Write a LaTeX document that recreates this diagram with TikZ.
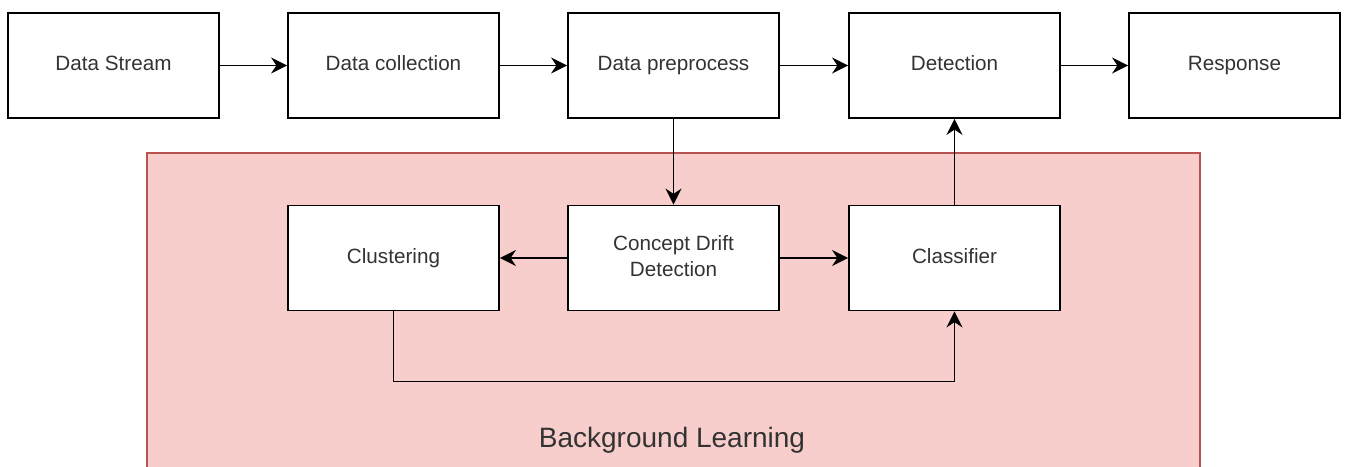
\documentclass[tikz,border=0pt]{standalone}
\usepackage{fontspec}
\setmainfont{Liberation Sans}
\usetikzlibrary{arrows.meta}

\definecolor{bgfill}{HTML}{F8CECC}
\definecolor{bgline}{HTML}{B85450}
\definecolor{txt}{HTML}{333333}

\begin{document}
\begin{tikzpicture}[x=0.75pt, y=-0.75pt,
        main/.style = {draw, fill=white, line width=1.4pt, inner sep=0pt,
                minimum width=158.25pt, minimum height=78.75pt, align=center,
                text=txt, font=\fontsize{15.5}{19.5}\selectfont,
                execute at begin node=\vphantom{Dp}},
        link/.style = {->, line width=1.2pt},
        >={Stealth[length=12pt, width=12pt, inset=4pt]}]
                \useasboundingbox (0,0) rectangle (1345,467);

                % background learning area
                \fill[bgfill] (147,153) rectangle (1200,467);
                \draw[bgline, line width=0.8pt] (147,467) -- (147,153) -- (1200,153) -- (1200,467);
                \node[text=txt, font=\fontsize{21}{25}\selectfont] at (672,440) (bl) {Background Learning};

                % top row
                \node[main] at (113.5, 65.5) (ds) {Data Stream};
                \node[main] at (393.5, 65.5) (dc) {Data collection};
                \node[main] at (673.5, 65.5) (dp) {Data preprocess};
                \node[main] at (954.5, 65.5) (det) {Detection};
                \node[main] at (1234.5, 65.5) (res) {Response};

                % second row
                \node[main] at (393.5, 258) (clu) {Clustering};
                \node[main] at (673.5, 258) (cdd) {Concept Drift\\Detection};
                \node[main] at (954.5, 258) (cls) {Classifier};

                \draw [link] (ds) -- (dc);
                \draw [link] (dc) -- (dp);
                \draw [link] (dp) -- (det);
                \draw [link] (det) -- (res);

                \draw [link] (dp) -- (cdd);
                \draw [link] (cdd) -- (clu);
                \draw [link] (cdd) -- (cls);
                \draw [link] (cls) -- (det);
                \draw [link] (clu.south) -- ++(0,70) -| (cls.south);
            \end{tikzpicture}
\end{document}
